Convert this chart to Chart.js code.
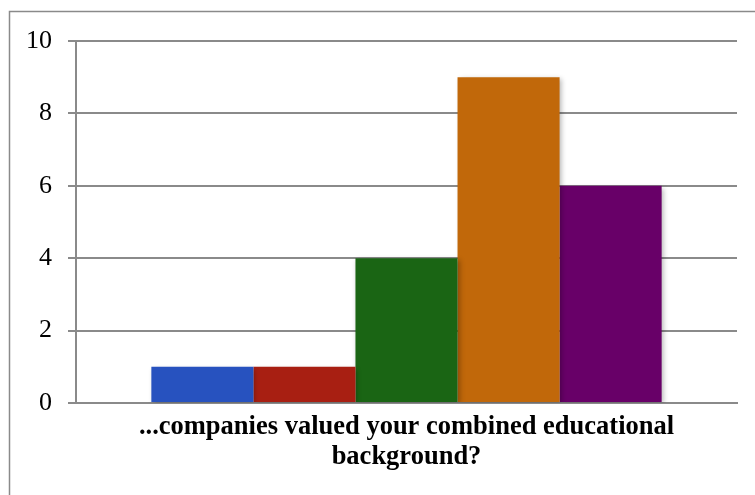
<!DOCTYPE html>
<html>
<head>
<meta charset="utf-8">
<script src="https://cdn.jsdelivr.net/npm/chart.js@4/dist/chart.umd.min.js"></script>
<style>
  html, body { margin: 0; padding: 0; background: #fff; }
  #wrap { width: 755px; height: 495px; position: relative; }
</style>
</head>
<body>
<div id="wrap"><canvas id="chart" width="755" height="495"></canvas></div>
<script>
// data
var categories = [["...companies valued your combined educational", "background?"]];
var seriesNames = ["A", "B", "C", "D", "E"];
var seriesValues = [1, 1, 4, 9, 6];
var seriesColors = ["#2752bf", "#a81f12", "#1a6514", "#c1680a", "#680068"];
var yTicks = [0, 2, 4, 6, 8, 10];

var serif = "'Liberation Serif', 'Times New Roman', serif";

// gray frame round the whole chart, runs off right and bottom edges
var framePlugin = {
  id: 'frame',
  beforeDraw: function (chart) {
    var ctx = chart.ctx;
    ctx.save();
    ctx.strokeStyle = '#8a8a8a';
    ctx.lineWidth = 1.5;
    ctx.strokeRect(9.5, 11.5, 800, 600);
    ctx.restore();
  }
};

// soft shadow under the bars
var shadowPlugin = {
  id: 'barShadow',
  beforeDatasetsDraw: function (chart) {
    var ctx = chart.ctx;
    ctx.save();
    ctx.shadowColor = 'rgba(0,0,0,0.28)';
    ctx.shadowBlur = 5;
    ctx.shadowOffsetX = 2;
    ctx.shadowOffsetY = 2;
  },
  afterDatasetsDraw: function (chart) {
    chart.ctx.restore();
  }
};

var datasets = [];
for (var i = 0; i < seriesValues.length; i++) {
  datasets.push({
    label: seriesNames[i],
    data: [seriesValues[i]],
    backgroundColor: seriesColors[i],
    borderWidth: 0,
    barPercentage: 1,
    categoryPercentage: 0.772
  });
}

new Chart(document.getElementById('chart'), {
  type: 'bar',
  data: { labels: categories, datasets: datasets },
  plugins: [framePlugin, shadowPlugin],
  options: {
    responsive: false,
    animation: false,
    layout: { padding: { top: 41, right: 18, left: 0, bottom: 0 } },
    plugins: { legend: { display: false }, tooltip: { enabled: false } },
    scales: {
      x: {
        grid: { display: false },
        border: { display: true, color: '#8a8a8a', width: 2 },
        ticks: {
          color: '#000',
          padding: 1,
          maxRotation: 0,
          font: { family: serif, size: 26.5, weight: 'bold', lineHeight: 1.13 }
        },
        afterFit: function (scale) { scale.height = 92; }
      },
      y: {
        min: 0,
        max: 10,
        afterBuildTicks: function (scale) {
          scale.ticks = yTicks.map(function (v) { return { value: v }; });
        },
        grid: { color: '#8a8a8a', lineWidth: 2, tickLength: 8 },
        border: { display: true, color: '#8a8a8a', width: 2 },
        ticks: {
          color: '#000',
          padding: 16,
          font: { family: serif, size: 26 }
        },
        afterFit: function (scale) { scale.width = 76; }
      }
    }
  }
});
</script>
</body>
</html>
